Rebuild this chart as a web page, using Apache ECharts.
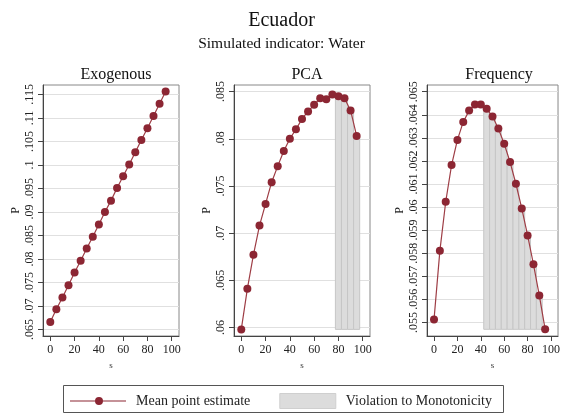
<!DOCTYPE html>
<html><head><meta charset="utf-8">
<script src="https://cdn.jsdelivr.net/npm/echarts@6/dist/echarts.min.js"></script>
<style>html,body{margin:0;padding:0;background:#fff}#c{width:563px;height:413px}</style>
</head><body><div id="c"></div>
<script>
const sValues = [0,5,10,15,20,25,30,35,40,45,50,55,60,65,70,75,80,85,90,95];
const exogenous = [.0666,.0693,.0718,.0744,.0771,.0796,.0822,.0847,.0873,.0900,.0924,.0951,.0976,.1001,.1027,.1053,.1078,.1104,.1130,.1156];
const pca = [.0598,.0641,.0677,.0708,.0731,.0754,.0771,.0787,.0800,.0810,.0821,.0829,.0836,.0843,.0842,.0847,.0845,.0843,.0830,.0803];
const frequency = [.05512,.05810,.06023,.06182,.06291,.06369,.06418,.06444,.06445,.06426,.06392,.06340,.06274,.06195,.06101,.05994,.05877,.05752,.05617,.05470];
const pcaViolation = [80,85,90,95];
const freqViolation = [45,50,55,60,65,70,75,80,85,90,95];
const exoTicks = [.065,.07,.075,.08,.085,.09,.095,.1,.105,.11,.115];
const pcaTicks = [.06,.065,.07,.075,.08,.085];
const freqTicks = [.055,.056,.057,.058,.059,.06,.061,.062,.063,.064,.065];
const xTicks = [0,20,40,60,80,100];
const panelTitles = ['Exogenous','PCA','Frequency'];

const FONT = "'Liberation Serif', 'DejaVu Serif', serif";
const RED = '#8c2633';
const LINE = '#9e3d45';
const BIN = 5;

const fmt = v => String(+(+v).toFixed(4)).replace(/^0\./, '.');

const grids = [
  {left: 43, top: 85, width: 136, height: 251},
  {left: 234, top: 85, width: 136, height: 251},
  {left: 427, top: 85, width: 134, height: 251}
];
const yRanges = [[.0636, .117], [.0591, .0857], [.05441, .06529]];
const yTicks = [exoTicks, pcaTicks, freqTicks];
const series = [exogenous, pca, frequency];
const viol = [null, pcaViolation, freqViolation];

const option = {
  animation: false,
  backgroundColor: '#fff',
  title: [
    {text: 'Ecuador', left: 'center', top: 6, textStyle: {fontFamily: FONT, fontSize: 20, fontWeight: 'normal', color: '#111'}},
    {text: 'Simulated indicator: Water', left: 'center', top: 31, textStyle: {fontFamily: FONT, fontSize: 15.5, fontWeight: 'normal', color: '#111'}}
  ].concat(panelTitles.map((t, i) => ({
    text: t, left: grids[i].left + grids[i].width / 2, top: 62, textAlign: 'center',
    textStyle: {fontFamily: FONT, fontSize: 16, fontWeight: 'normal', color: '#111'}
  }))),
  grid: grids.map(g => Object.assign({show: true, borderColor: '#888', borderWidth: 1, backgroundColor: '#fff'}, g)),
  xAxis: grids.map((g, i) => ({
    type: 'value', gridIndex: i, min: -6, max: 106,
    name: 's', nameLocation: 'middle', nameGap: 22,
    nameTextStyle: {fontFamily: FONT, fontSize: 9, color: '#333'},
    axisLine: {show: true, onZero: false, lineStyle: {color: '#444', width: 1}},
    axisTick: {show: true, length: 5, customValues: xTicks, lineStyle: {color: '#444'}},
    axisLabel: {customValues: xTicks, fontFamily: FONT, fontSize: 12, color: '#222', margin: 8},
    splitLine: {show: false}
  })),
  yAxis: grids.map((g, i) => ({
    type: 'value', gridIndex: i, min: yRanges[i][0], max: yRanges[i][1],
    name: 'P', nameLocation: 'middle', nameGap: 21, nameRotate: 90,
    nameTextStyle: {fontFamily: FONT, fontSize: 12, color: '#222'},
    axisLine: {show: true, onZero: false, lineStyle: {color: '#444', width: 1}},
    axisTick: {show: true, length: 5, customValues: yTicks[i], lineStyle: {color: '#444'}},
    axisLabel: {customValues: yTicks[i], rotate: 90, fontFamily: FONT, fontSize: 12, color: '#222', margin: 7, formatter: fmt},
    splitLine: {show: true, lineStyle: {color: '#e0e0e0', width: 1}}
  })),
  legend: {
    left: 70, top: 393, padding: 0, itemWidth: 56, itemHeight: 15, itemGap: 29,
    symbolKeepAspect: true,
    textStyle: {fontFamily: FONT, fontSize: 14, color: '#222', padding: [0, 0, 0, 5]},
    data: [
      {name: 'Mean point estimate', icon: 'path://M0,3.4 L56,3.4 L56,4.6 L0,4.6 Z M25,4 a4,4 0 1,1 8,0 a4,4 0 1,1 -8,0 Z', itemStyle: {color: RED}},
      {name: 'Violation to Monotonicity', icon: 'rect', itemStyle: {color: '#dcdcdc', borderColor: '#cfcfcf', borderWidth: 1}}
    ]
  },
  graphic: [{type: 'rect', shape: {x: 63.5, y: 385.5, width: 440, height: 27}, style: {fill: 'none', stroke: '#555', lineWidth: 1}, silent: true}],
  series: []
};

series.forEach((vals, i) => {
  if (viol[i]) {
    const base = Math.min.apply(null, vals);
    const barData = viol[i].map(s => [s, vals[sValues.indexOf(s)], base]);
    option.series.push({
      name: 'Violation to Monotonicity', type: 'custom', xAxisIndex: i, yAxisIndex: i, z: 1,
      itemStyle: {color: '#dcdcdc'},
      renderItem: (params, api) => {
        const s = api.value(0), top = api.value(1), b = api.value(2);
        const p1 = api.coord([s - BIN / 2, top]);
        const p2 = api.coord([s + BIN / 2, b]);
        return {type: 'rect', shape: {x: p1[0], y: p1[1], width: p2[0] - p1[0], height: p2[1] - p1[1]},
          style: {fill: '#dcdcdc', stroke: '#c6c6c6', lineWidth: 1}};
      },
      data: barData
    });
  }
  option.series.push({
    name: 'Mean point estimate', type: 'line', xAxisIndex: i, yAxisIndex: i, z: 3,
    data: sValues.map((s, k) => [s, vals[k]]),
    symbol: 'circle', symbolSize: 8, showSymbol: true,
    lineStyle: {color: LINE, width: 1.2},
    itemStyle: {color: RED}
  });
});

const chart = echarts.init(document.getElementById('c'), null, {renderer: 'canvas'});
chart.setOption(option);
</script></body></html>
